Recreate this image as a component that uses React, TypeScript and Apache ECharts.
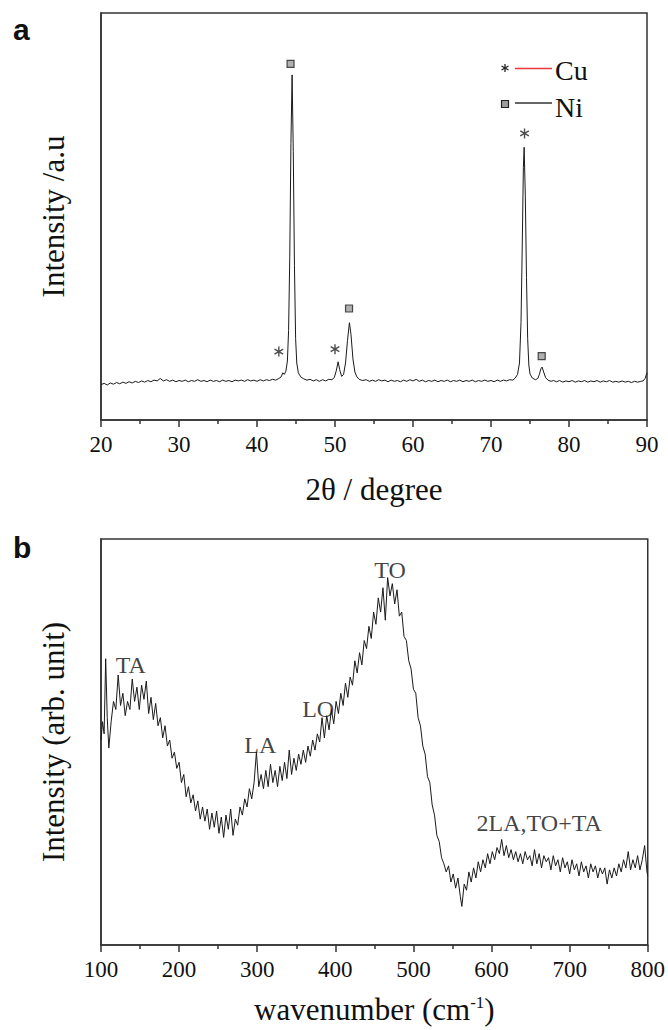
import React, { useEffect, useRef } from "react";
import * as echarts from "echarts";

// ---------- Panel a : XRD pattern (2θ in degrees, intensity a.u.) ----------
const xrdPoints: [number, number][] = [
  [20.0, 8.7], [20.4, 9.0], [20.8, 8.6], [21.2, 9.1], [21.6, 8.8], [22.0, 9.2], [22.4, 8.9], [22.8, 9.3],
  [23.2, 9.0], [23.6, 9.4], [24.0, 9.1], [24.4, 9.5], [24.8, 9.2], [25.2, 9.6], [25.6, 9.3], [26.0, 9.7],
  [26.4, 9.4], [26.8, 9.8], [27.2, 9.6], [27.6, 10.2], [28.0, 9.6], [28.4, 9.9], [28.8, 9.5], [29.2, 9.8],
  [29.6, 9.4], [30.0, 9.7], [30.4, 9.5], [30.8, 9.8], [31.2, 9.4], [31.6, 9.7], [32.0, 9.5], [32.4, 9.9],
  [32.8, 9.5], [33.2, 9.7], [33.6, 9.4], [34.0, 9.8], [34.4, 9.5], [34.8, 9.7], [35.2, 9.4], [35.6, 9.8],
  [36.0, 9.5], [36.4, 9.7], [36.8, 9.4], [37.2, 9.8], [37.6, 9.6], [38.0, 9.8], [38.4, 9.5], [38.8, 9.9],
  [39.2, 9.6], [39.6, 9.8], [40.0, 9.5], [40.4, 9.9], [40.8, 9.6], [41.2, 9.9], [41.6, 9.7], [42.0, 10.0],
  [42.4, 9.8], [42.8, 10.2], [43.1, 10.6], [43.3, 11.6], [43.5, 11.2], [43.7, 12.0], [43.9, 14.5],
  [44.05, 22], [44.2, 40], [44.35, 68], [44.5, 84.8], [44.65, 66], [44.8, 38], [44.95, 20], [45.1, 14],
  [45.3, 11.6], [45.6, 10.6], [46.0, 10.1], [46.4, 9.8], [46.8, 10.0], [47.2, 9.6], [47.6, 9.9], [48.0, 9.5],
  [48.4, 9.9], [48.8, 9.6], [49.2, 10.0], [49.6, 9.9], [49.9, 10.4], [50.15, 12.0], [50.4, 14.3],
  [50.6, 12.4], [50.85, 10.7], [51.1, 11.2], [51.35, 14.0], [51.6, 19.5], [51.85, 23.9], [52.05, 21],
  [52.3, 15], [52.55, 11.8], [52.8, 10.6], [53.1, 10.0], [53.5, 9.7], [54.0, 9.9], [54.4, 9.5], [54.8, 9.8],
  [55.2, 9.5], [55.6, 9.9], [56.0, 9.6], [56.4, 9.8], [56.8, 9.4], [57.2, 9.8], [57.6, 9.5], [58.0, 9.7],
  [58.4, 9.4], [58.8, 9.8], [59.2, 9.5], [59.6, 9.9], [60.0, 9.6], [60.4, 10.0], [60.8, 9.5], [61.2, 9.8],
  [61.6, 9.4], [62.0, 9.7], [62.4, 9.5], [62.8, 9.8], [63.2, 9.4], [63.6, 9.7], [64.0, 9.5], [64.4, 9.8],
  [64.8, 9.4], [65.2, 9.7], [65.6, 9.5], [66.0, 9.8], [66.4, 9.4], [66.8, 9.7], [67.2, 9.5], [67.6, 9.8],
  [68.0, 9.4], [68.4, 9.7], [68.8, 9.5], [69.2, 9.8], [69.6, 9.5], [70.0, 9.7], [70.4, 9.4], [70.8, 9.8],
  [71.2, 9.5], [71.6, 9.8], [72.0, 9.6], [72.4, 9.9], [72.8, 9.8], [73.1, 10.3], [73.4, 11.2], [73.65, 14],
  [73.85, 24], [74.0, 42], [74.15, 62], [74.25, 67], [74.4, 55], [74.55, 35], [74.7, 20], [74.85, 13.5],
  [75.0, 11.3], [75.3, 10.3], [75.7, 9.9], [76.0, 10.2], [76.2, 11.2], [76.4, 12.6], [76.55, 13.0],
  [76.75, 11.8], [77.0, 10.4], [77.3, 9.8], [77.7, 9.5], [78.0, 9.7], [78.4, 9.4], [78.8, 9.7], [79.2, 9.3],
  [79.6, 9.6], [80.0, 9.4], [80.4, 9.7], [80.8, 9.3], [81.2, 9.6], [81.6, 9.4], [82.0, 9.7], [82.4, 9.3],
  [82.8, 9.6], [83.2, 9.4], [83.6, 9.7], [84.0, 9.3], [84.4, 9.6], [84.8, 9.4], [85.2, 9.7], [85.6, 9.3],
  [86.0, 9.5], [86.4, 9.3], [86.8, 9.6], [87.2, 9.3], [87.6, 9.5], [88.0, 9.2], [88.4, 9.5], [88.8, 9.3],
  [89.2, 9.5], [89.5, 9.6], [89.75, 10.2], [90.0, 11.6],
];

// Phase markers above the reflections
const niMarkAngle = [44.3, 51.8, 76.5];
const niMarkHeight = [87.5, 27.4, 15.7];
const cuMarkAngle = [42.8, 50.0, 74.3];
const cuMarkHeight = [16.8, 17.4, 70.4];

// ---------- Panel b : Raman spectrum (wavenumber cm-1, arb. unit) ----------
const ramanPoints: [number, number][] = [
  [100, 50.5], [102, 55], [104, 52], [106, 70.5], [108, 56], [110, 48.5], [113, 55], [116, 60], [119, 58],
  [122, 66.5], [125, 59], [128, 62], [131, 56.5], [134, 60], [137, 58], [140, 65.5], [143, 60], [146, 63.5],
  [149, 58], [152, 64], [155, 60.5], [158, 65], [161, 57], [164, 61], [167, 55.5], [170, 59.5], [173, 54],
  [176, 56], [179, 51], [182, 54], [185, 49], [188, 50.5], [191, 46], [194, 47.5], [197, 43.5], [200, 45],
  [203, 40], [206, 42], [209, 36.5], [212, 39], [215, 35], [218, 37], [221, 33], [224, 35.5], [227, 31],
  [230, 34], [233, 30.5], [236, 33.5], [239, 28.5], [242, 32.5], [245, 29], [248, 33], [251, 27.5],
  [254, 31.5], [257, 26.5], [260, 32], [263, 28.5], [266, 33.5], [269, 27], [272, 31], [275, 29.5],
  [278, 34], [281, 32], [284, 36], [287, 34], [290, 38.5], [293, 36], [296, 40], [299, 47.5], [302, 39],
  [305, 42], [308, 38.5], [311, 43], [314, 39], [317, 44.5], [320, 40], [323, 43], [326, 39], [329, 44],
  [332, 40.5], [335, 45], [338, 41], [341, 48], [344, 42], [347, 46], [350, 43], [353, 47], [356, 44.5],
  [359, 48], [362, 45], [365, 49], [368, 46.5], [371, 50.5], [374, 48], [377, 52], [380, 50], [383, 56],
  [386, 51], [389, 56.5], [392, 53], [395, 58], [398, 54.5], [401, 60], [404, 57], [407, 62], [410, 59],
  [413, 64.5], [416, 61], [419, 66], [422, 64], [425, 70], [428, 67], [431, 72], [434, 69], [437, 75],
  [440, 73], [443, 78.5], [446, 75.5], [449, 82], [452, 79], [455, 85.5], [458, 82], [461, 88], [464, 80],
  [467, 90.5], [470, 86], [473, 89], [476, 84], [479, 87.5], [482, 81], [485, 82], [488, 76], [491, 75],
  [494, 70], [497, 68], [500, 63], [503, 62], [506, 56], [509, 54], [512, 49], [515, 47], [518, 41.5],
  [521, 40], [524, 34.5], [527, 32], [530, 27], [533, 25.5], [536, 21.5], [539, 20], [542, 18], [545, 19.5],
  [548, 15.5], [551, 17.5], [554, 14], [557, 16.5], [560, 12], [562, 9.5], [565, 15], [568, 13.5], [571, 18],
  [574, 15.5], [577, 19], [580, 16.5], [583, 20.5], [586, 18], [589, 21], [592, 19], [595, 22.5], [598, 20],
  [601, 23], [604, 21], [607, 24], [610, 22.5], [613, 26], [616, 22], [619, 24.5], [622, 21.5], [625, 23.5],
  [628, 21], [631, 23], [634, 20.5], [637, 22.5], [640, 20], [643, 23], [646, 21], [649, 22], [652, 19.5],
  [655, 23.5], [658, 20], [661, 22.5], [664, 19], [667, 22], [670, 20.5], [673, 21.5], [676, 18.5], [679, 22],
  [682, 19.5], [685, 21], [688, 18], [691, 21.5], [694, 19], [697, 20.5], [700, 17.5], [703, 21], [706, 18.5],
  [709, 20], [712, 17], [715, 20.5], [718, 18], [721, 19.5], [724, 16.5], [727, 20], [730, 18], [733, 19.5],
  [736, 16.5], [739, 19], [742, 17.5], [745, 19], [748, 15], [751, 18.5], [754, 16.5], [757, 19], [760, 17],
  [763, 20], [766, 18], [769, 21], [772, 19], [775, 23], [778, 18.5], [781, 21], [784, 19], [787, 22],
  [790, 18.5], [793, 21], [796, 24.5], [799, 18], [800, 17],
];

const ramanModes = ["TA", "LA", "LO", "TO", "2LA,TO+TA"];
const ramanModeShift = [138, 304, 378, 470, 661];
const ramanModeHeight = [68.9, 49.3, 58.1, 92.3, 30];

const SERIF = "Liberation Serif";
const INK = "#111";

const ASTERISK =
  "path://M-0.7,-5L0.7,-5L0.7,5L-0.7,5Z M-4.68,-1.89L-3.98,-3.11L4.68,1.89L3.98,3.11Z M3.98,-3.11L4.68,-1.89L-3.98,3.11L-4.68,1.89Z";

function xAxisCommon(min: number, max: number, interval: number) {
  return {
    type: "value" as const,
    min,
    max,
    interval,
    axisLine: { show: true, onZero: false, lineStyle: { color: "#333", width: 1.5 } },
    axisTick: { show: true, inside: false, length: 7, lineStyle: { color: "#333", width: 1.5 } },
    minorTick: { show: true, splitNumber: 2, length: 4, lineStyle: { color: "#333", width: 1.5 } },
    axisLabel: {
      margin: 13,
      formatter: "{t|{value}}",
      rich: { t: { fontFamily: SERIF, fontSize: 23, color: INK } },
    },
    splitLine: { show: false },
    minorSplitLine: { show: false },
  };
}

function yAxisCommon(gridIndex: number, name: string) {
  return {
    type: "value" as const,
    gridIndex,
    min: 0,
    max: 100,
    name: "{t|" + name + "}",
    nameLocation: "middle" as const,
    nameGap: 32,
    nameRotate: 90,
    nameTextStyle: {
      fontFamily: SERIF,
      fontSize: 31,
      color: INK,
      rich: { t: { fontFamily: SERIF, fontSize: 31, color: INK } },
    },
    axisLine: { show: true, lineStyle: { color: "#333", width: 1.5 } },
    axisTick: { show: false },
    axisLabel: { show: false },
    splitLine: { show: false },
  };
}

export default function App() {
  const ref = useRef<HTMLDivElement>(null);

  useEffect(() => {
    document.body.style.margin = "0";
    if (!ref.current) return;
    const chart = echarts.init(ref.current, undefined, { renderer: "svg" });

    const option: any = {
      animation: false,
      backgroundColor: "#fff",
      textStyle: { fontFamily: SERIF, color: INK },
      grid: [
        { left: 101, top: 13, width: 546, height: 407, show: true, borderColor: "#333", borderWidth: 1.5, backgroundColor: "transparent" },
        { left: 101, top: 539, width: 547, height: 406, show: true, borderColor: "#333", borderWidth: 1.5, backgroundColor: "transparent" },
      ],
      xAxis: [
        {
          ...xAxisCommon(20, 90, 10),
          gridIndex: 0,
          name: "{t|2θ / degree}",
          nameLocation: "middle",
          nameGap: 54,
          nameTextStyle: {
            fontFamily: SERIF,
            fontSize: 31,
            color: INK,
            rich: { t: { fontFamily: SERIF, fontSize: 31, color: INK } },
          },
        },
        {
          ...xAxisCommon(100, 800, 100),
          gridIndex: 1,
          name: "{t|wavenumber (cm}{sup|-1}{t|)}",
          nameLocation: "middle",
          nameGap: 49,
          nameTextStyle: {
            fontFamily: SERIF,
            fontSize: 31,
            color: INK,
            rich: {
              t: { fontFamily: SERIF, fontSize: 31, color: INK },
              sup: { fontFamily: SERIF, fontSize: 17, color: INK, verticalAlign: "top", padding: [0, 0, 12, 0] },
            },
          },
        },
      ],
      yAxis: [yAxisCommon(0, "Intensity /a.u"), yAxisCommon(1, "Intensity (arb. unit)")],
      series: [
        {
          type: "line",
          xAxisIndex: 0,
          yAxisIndex: 0,
          data: xrdPoints,
          showSymbol: false,
          silent: true,
          lineStyle: { color: "#1a1a1a", width: 1 },
        },
        {
          type: "scatter",
          xAxisIndex: 0,
          yAxisIndex: 0,
          data: niMarkAngle.map((a, i) => [a, niMarkHeight[i]]),
          symbol: "rect",
          symbolSize: 7,
          silent: true,
          itemStyle: { color: "#9c9c9c", borderColor: "#222", borderWidth: 1.2 },
        },
        {
          type: "scatter",
          xAxisIndex: 0,
          yAxisIndex: 0,
          data: cuMarkAngle.map((a, i) => [a, cuMarkHeight[i]]),
          symbol: ASTERISK,
          symbolKeepAspect: true,
          symbolSize: 10,
          silent: true,
          itemStyle: { color: "#222" },
        },
        {
          type: "line",
          xAxisIndex: 1,
          yAxisIndex: 1,
          data: ramanPoints,
          showSymbol: false,
          silent: true,
          lineStyle: { color: "#1a1a1a", width: 1 },
        },
        {
          type: "scatter",
          xAxisIndex: 1,
          yAxisIndex: 1,
          symbolSize: 1,
          silent: true,
          itemStyle: { color: "rgba(0,0,0,0)" },
          data: ramanModes.map((m, i) => ({ name: m, value: [ramanModeShift[i], ramanModeHeight[i]] })),
          label: {
            show: true,
            position: "inside",
            formatter: (p: any) => p.name,
            fontFamily: SERIF,
            fontSize: 24,
            color: INK,
            textBorderWidth: 0,
          },
        },
      ],
      graphic: [
        { type: "text", left: 13, top: 14, style: { text: "a", font: "bold 30px 'Liberation Sans'", fill: "#111" } },
        { type: "text", left: 13, top: 532, style: { text: "b", font: "bold 30px 'Liberation Sans'", fill: "#111" } },
        // legend: Cu
        { type: "line", shape: { x1: 505, y1: 64, x2: 505, y2: 72 }, style: { stroke: "#222", lineWidth: 1.3 } },
        { type: "line", shape: { x1: 501.5, y1: 66, x2: 508.5, y2: 70 }, style: { stroke: "#222", lineWidth: 1.3 } },
        { type: "line", shape: { x1: 501.5, y1: 70, x2: 508.5, y2: 66 }, style: { stroke: "#222", lineWidth: 1.3 } },
        { type: "line", shape: { x1: 515, y1: 68.5, x2: 552, y2: 68.5 }, style: { stroke: "#e8383d", lineWidth: 1.3 } },
        { type: "text", x: 555, y: 70, style: { text: "Cu", font: "28px 'Liberation Serif'", fill: INK, textVerticalAlign: "middle" } },
        // legend: Ni
        { type: "rect", shape: { x: 501.5, y: 100.5, width: 7, height: 7 }, style: { fill: "#9c9c9c", stroke: "#222", lineWidth: 1.2 } },
        { type: "line", shape: { x1: 515, y1: 103, x2: 552, y2: 103 }, style: { stroke: "#333", lineWidth: 1.3 } },
        { type: "text", x: 555, y: 107, style: { text: "Ni", font: "28px 'Liberation Serif'", fill: INK, textVerticalAlign: "middle" } },
      ],
    };

    chart.setOption(option);
    return () => chart.dispose();
  }, []);

  return <div ref={ref} style={{ width: 668, height: 1030 }} />;
}
